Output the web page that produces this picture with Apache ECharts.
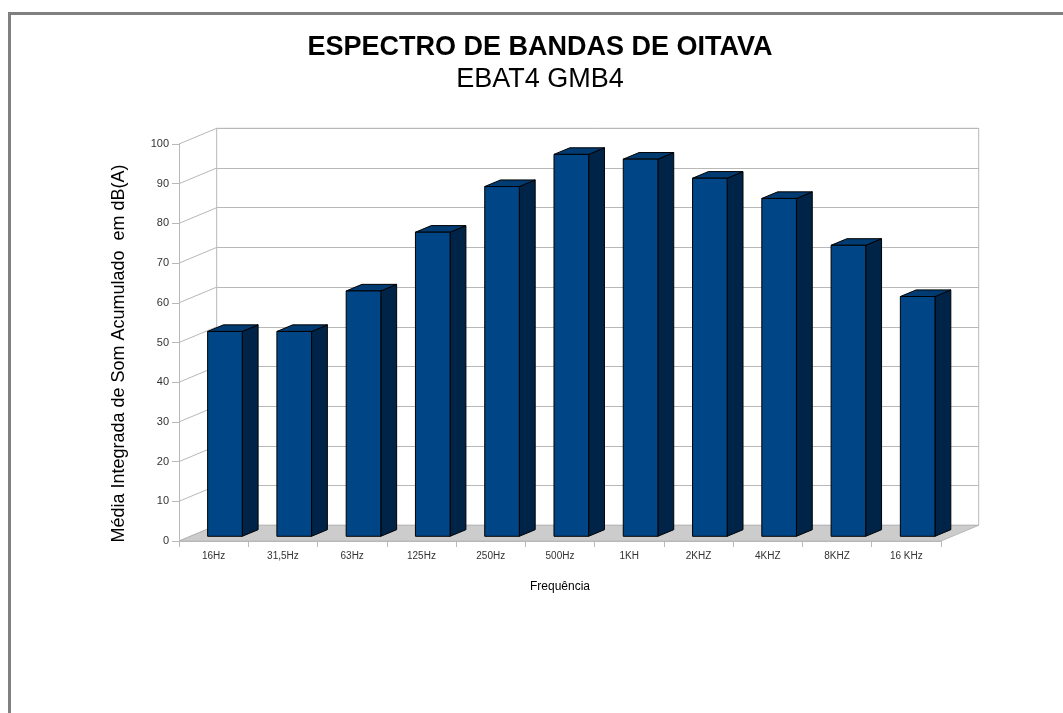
<!DOCTYPE html>
<html>
<head>
<meta charset="utf-8">
<script src="https://cdn.jsdelivr.net/npm/echarts@6/dist/echarts.min.js"></script>
<style>
html,body{margin:0;padding:0;background:#fff;}
#chart{width:1063px;height:713px;}
</style>
</head>
<body>
<div id="chart"></div>
<script>
var categories = ['16Hz', '31,5Hz', '63Hz', '125Hz', '250Hz', '500Hz', '1KH', '2KHZ', '4KHZ', '8KHZ', '16 KHz'];
var values = [51.6, 51.6, 61.8, 76.6, 88.1, 96.2, 95.0, 90.2, 85.1, 73.3, 60.4];
var yTicks = [0, 10, 20, 30, 40, 50, 60, 70, 80, 90, 100];
var titleText = 'ESPECTRO DE BANDAS DE OITAVA';
var subtitleText = 'EBAT4 GMB4';
var yName = 'Média Integrada de Som Acumulado  em dB(A)';
var xName = 'Frequência';

var DX = 37.7, DY = -15.7;      // depth of the 3D box
var F_FRONT = 0.3, F_BACK = 0.72; // bar depth position
var FONT = '"Liberation Sans", Arial, sans-serif';
var GRID_LINE = '#b8b8b8';

var chart = echarts.init(document.getElementById('chart'), null, {renderer: 'canvas'});

var option = {
  backgroundColor: '#ffffff',
  animation: false,
  title: {
    text: titleText,
    subtext: subtitleText,
    left: 540,
    textAlign: 'center',
    top: 34,
    padding: 0,
    itemGap: 5,
    textStyle: {fontFamily: FONT, fontSize: 27, fontWeight: 'bold', color: '#000'},
    subtextStyle: {fontFamily: FONT, fontSize: 27, color: '#000'}
  },
  graphic: [
    {type: 'rect', shape: {x: 8, y: 12, width: 1055, height: 3}, style: {fill: '#808080'}, silent: true},
    {type: 'rect', shape: {x: 8, y: 12, width: 3, height: 701}, style: {fill: '#808080'}, silent: true}
  ],
  grid: [
    {left: 179, top: 144, width: 762, height: 397, containLabel: false},
    {left: 179 + 37.7, top: 144 - 15.7, width: 762, height: 397, containLabel: false,
     show: true, borderColor: GRID_LINE, borderWidth: 1, backgroundColor: 'transparent'}
  ],
  xAxis: [
    {
      type: 'category', gridIndex: 0, data: categories, boundaryGap: true,
      axisLine: {show: true, lineStyle: {color: GRID_LINE, width: 1}},
      axisTick: {show: true, length: 6, lineStyle: {color: GRID_LINE}},
      axisLabel: {fontFamily: FONT, fontSize: 10, color: '#333', margin: 10},
      name: xName, nameLocation: 'middle', nameGap: 40,
      nameTextStyle: {fontFamily: FONT, fontSize: 12, color: '#000'},
      splitLine: {show: false}
    },
    {
      type: 'category', gridIndex: 1, data: categories, boundaryGap: true,
      axisLine: {show: false}, axisTick: {show: false}, axisLabel: {show: false}, splitLine: {show: false}
    }
  ],
  yAxis: [
    {
      type: 'value', gridIndex: 0, min: 0, max: 100, interval: 10,
      axisLine: {show: true, lineStyle: {color: GRID_LINE, width: 1}},
      axisTick: {show: true, length: 7, lineStyle: {color: GRID_LINE}},
      axisLabel: {fontFamily: FONT, fontSize: 11, color: '#333', margin: 10},
      splitLine: {show: false},
      name: yName, nameLocation: 'middle', nameGap: 51,
      nameTextStyle: {fontFamily: FONT, fontSize: 18, color: '#000', padding: [0, 22, 0, 0]}
    },
    {
      type: 'value', gridIndex: 1, min: 0, max: 100, interval: 10,
      axisLine: {show: false}, axisTick: {show: false}, axisLabel: {show: false},
      splitLine: {show: true, lineStyle: {color: GRID_LINE, width: 1}}
    }
  ],
  series: [
    {
      // floor + left-side tick diagonals
      type: 'custom', xAxisIndex: 0, yAxisIndex: 0, z: 1, silent: true,
      data: [[0, 0]],
      renderItem: function (params, api) {
        var cs = params.coordSys;
        var x0 = cs.x, x1 = cs.x + cs.width;
        var yb = api.coord([0, 0])[1];
        var children = [{
          type: 'polygon',
          shape: {points: [[x0, yb], [x1, yb], [x1 + DX, yb + DY], [x0 + DX, yb + DY]]},
          style: {fill: '#cccccc', stroke: GRID_LINE, lineWidth: 1}
        }];
        for (var k = 0; k < yTicks.length; k++) {
          var y = api.coord([0, yTicks[k]])[1];
          children.push({
            type: 'line',
            shape: {x1: x0, y1: y, x2: x0 + DX, y2: y + DY},
            style: {stroke: GRID_LINE, lineWidth: 1}
          });
        }
        return {type: 'group', children: children};
      }
    },
    {
      type: 'custom', xAxisIndex: 0, yAxisIndex: 0, z: 5, silent: true,
      data: values.map(function (v, i) { return [i, v]; }),
      encode: {x: 0, y: 1},
      renderItem: function (params, api) {
        var i = api.value(0), v = api.value(1);
        var base = api.coord([i, 0]);
        var topP = api.coord([i, v]);
        var bw = api.size([1, 0])[0] * 0.5;
        var ox = F_FRONT * DX, oy = F_FRONT * DY;
        var sx = (F_BACK - F_FRONT) * DX, sy = (F_BACK - F_FRONT) * DY;
        var xl = base[0] - bw / 2 + ox, xr = base[0] + bw / 2 + ox;
        var yt = topP[1] + oy, yb = base[1] + oy;
        return {
          type: 'group',
          children: [
            {type: 'polygon', shape: {points: [[xr, yt], [xr + sx, yt + sy], [xr + sx, yb + sy], [xr, yb]]},
             style: {fill: '#002447', stroke: '#000', lineWidth: 1}},
            {type: 'polygon', shape: {points: [[xl, yt], [xr, yt], [xr + sx, yt + sy], [xl + sx, yt + sy]]},
             style: {fill: '#003b72', stroke: '#000', lineWidth: 1}},
            {type: 'rect', shape: {x: xl, y: yt, width: xr - xl, height: yb - yt},
             style: {fill: '#004586', stroke: '#000', lineWidth: 1}}
          ]
        };
      }
    }
  ]
};
chart.setOption(option);
</script>
</body>
</html>
